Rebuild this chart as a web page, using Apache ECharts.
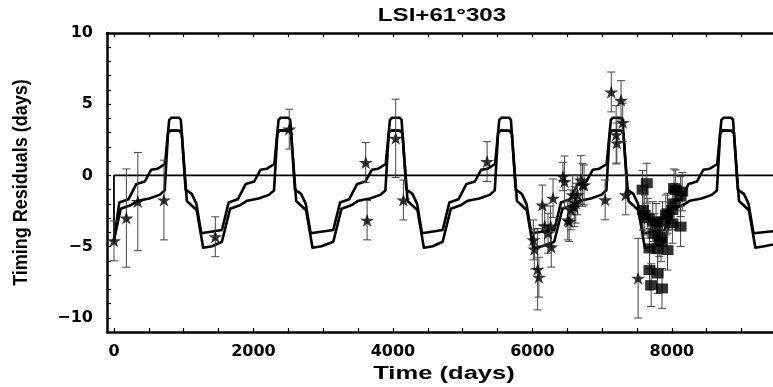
<!DOCTYPE html>
<html><head><meta charset="utf-8">
<script src="https://cdn.jsdelivr.net/npm/echarts@6/dist/echarts.min.js"></script>
<style>html,body{margin:0;padding:0;background:#fff;overflow:hidden}#c{width:773px;height:387px}</style>
</head><body><div id="c"></div>
<script>
// ---- tick labels / tick marks ----
const xTickLabels = [0, 2000, 4000, 6000, 8000];
const xTickMarks = [0,500,1000,1500,2000,2500,3000,3500,4000,4500,5000,5500,6000,6500,7000,7500,8000,8500,9000];
const yTickLabels = [-10, -5, 0, 5, 10];
const yTickMarks = [-10,-9,-8,-7,-6,-5,-4,-3,-2,-1,0,1,2,3,4,5,6,7,8,9,10];

// ---- model curves (time, residual) ----
const modelUpper = [
[0,-4.54],[77,-1.9],[207,-1.68],[322,-0.6],[442,-0.43],[532,0.39],[627,0.47],[732,0.8],[792,3.9],[822,4.05],[932,4.05],[959,3.9],[1027,-1.0],[1115,-1.3],[1182,-2.0],[1252,-4.07],
[1548,-3.84],[1645,-1.9],[1775,-1.68],[1890,-0.6],[2010,-0.43],[2100,0.39],[2195,0.47],[2300,0.8],[2360,3.9],[2390,4.05],[2500,4.05],[2527,3.9],[2595,-1.0],[2683,-1.3],[2750,-2.0],[2820,-4.07],
[3145,-3.84],[3242,-1.9],[3372,-1.68],[3487,-0.6],[3607,-0.43],[3697,0.39],[3792,0.47],[3897,0.8],[3957,3.9],[3987,4.05],[4097,4.05],[4124,3.9],[4192,-1.0],[4280,-1.3],[4347,-2.0],[4417,-4.07],
[4713,-3.84],[4810,-1.9],[4940,-1.68],[5055,-0.6],[5175,-0.43],[5265,0.39],[5360,0.47],[5465,0.8],[5525,3.9],[5555,4.05],[5665,4.05],[5692,3.9],[5760,-1.0],[5848,-1.3],[5915,-2.0],[5985,-4.07],
[6313,-3.84],[6410,-1.9],[6540,-1.68],[6655,-0.6],[6775,-0.43],[6865,0.39],[6960,0.47],[7065,0.8],[7125,3.9],[7155,4.05],[7265,4.05],[7292,3.9],[7360,-1.0],[7448,-1.3],[7515,-2.0],[7585,-4.07],
[7898,-3.84],[7995,-1.9],[8125,-1.68],[8240,-0.6],[8360,-0.43],[8450,0.39],[8545,0.47],[8650,0.8],[8710,3.9],[8740,4.05],[8850,4.05],[8877,3.9],[8945,-1.0],[9033,-1.3],[9100,-2.0],[9170,-4.07],[9500,-3.9]
];
const modelLower = [
[0,-4.54],[97,-2.35],[237,-2.1],[342,-1.78],[507,-1.62],[652,-1.37],[727,-1.07],[775,2.97],[812,3.16],[937,3.14],[972,2.95],[1045,-1.8],[1187,-2.45],[1279,-5.08],[1407,-4.98],
[1548,-4.66],[1665,-2.35],[1805,-2.1],[1910,-1.78],[2075,-1.62],[2220,-1.37],[2295,-1.07],[2343,2.97],[2380,3.16],[2505,3.14],[2540,2.95],[2613,-1.8],[2755,-2.45],[2847,-5.08],[2975,-4.98],
[3145,-4.66],[3262,-2.35],[3402,-2.1],[3507,-1.78],[3672,-1.62],[3817,-1.37],[3892,-1.07],[3940,2.97],[3977,3.16],[4102,3.14],[4137,2.95],[4210,-1.8],[4352,-2.45],[4444,-5.08],[4572,-4.98],
[4713,-4.66],[4830,-2.35],[4970,-2.1],[5075,-1.78],[5240,-1.62],[5385,-1.37],[5460,-1.07],[5508,2.97],[5545,3.16],[5670,3.14],[5705,2.95],[5778,-1.8],[5920,-2.45],[6012,-5.08],[6140,-4.98],
[6313,-4.66],[6430,-2.35],[6570,-2.1],[6675,-1.78],[6840,-1.62],[6985,-1.37],[7060,-1.07],[7108,2.97],[7145,3.16],[7270,3.14],[7305,2.95],[7378,-1.8],[7520,-2.45],[7612,-5.08],[7740,-4.98],
[7898,-4.66],[8015,-2.35],[8155,-2.1],[8260,-1.78],[8425,-1.62],[8570,-1.37],[8645,-1.07],[8693,2.97],[8730,3.16],[8855,3.14],[8890,2.95],[8963,-1.8],[9105,-2.45],[9197,-5.08],[9325,-4.98],[9500,-4.8]
];
const zeroLine = [[0,-4.6],[0,0],[9500,0]];

// ---- observations: [time, residual, error] ----
const starPoints = [
[0,-4.6,1.4],[178,-3.0,3.45],[342,-1.84,3.45],[717,-1.73,2.8],[1453,-4.31,1.4],
[2513,3.25,1.4],[3610,0.9,1.4],[3630,-3.15,1.38],[4040,2.6,2.75],[4150,-1.73,1.4],[5350,0.97,1.4],
[6014,-4.53,1.4],[6028,-5.18,1.4],[6075,-6.59,2.86],[6093,-7.15,1.4],[6142,-2.08,1.4],[6177,-3.55,1.4],
[6224,-4.06,1.4],[6261,-3.55,1.4],[6270,-5.04,1.4],[6296,-1.6,1.35],[6438,-0.08,1.0],[6461,-0.44,1.8],
[6507,-3.13,1.4],[6527,-3.24,1.4],[6551,-2.42,1.4],[6577,-1.37,1.4],[6601,-2.2,1.4],[6622,-1.95,1.4],
[6645,-1.37,1.4],[6695,-0.32,1.7],[6719,-0.67,1.5],[6741,-0.67,1.4],
[7043,-1.72,1.4],[7131,5.86,1.4],[7201,2.85,2.05],[7211,2.27,1.4],[7271,5.27,1.38],[7295,3.72,1.35],
[7338,-1.37,1.4],[7516,-7.22,2.8]
];
const squarePoints = [
[7580,-1.0,1.35],[7585,-2.43,1.4],[7610,-2.78,1.4],[7640,-0.55,1.4],[7656,-3.01,1.4],[7679,-5.13,1.4],
[7679,-6.65,1.4],[7703,-7.71,1.5],[7726,-3.25,1.4],[7750,-4.1,1.4],[7773,-3.37,1.4],[7796,-5.13,1.4],
[7796,-6.89,1.4],[7820,-4.31,1.4],[7844,-4.66,1.4],[7858,-7.94,1.4],[7866,-3.25,1.4],[7914,-2.78,1.4],
[7937,-5.25,1.4],[7937,-2.66,1.4],[8007,-2.43,1.4],[8007,-3.37,1.4],[8031,-1.96,1.4],[8031,-0.9,1.35],
[8055,-1.02,1.4],[8125,-1.49,1.4],[8125,-3.6,1.4],[8148,-1.14,1.35]
];

const STAR = 'path://M50,0 L61.8,35.1 L98.9,35.1 L68.9,56.8 L80.3,91.9 L50,70.2 L19.7,91.9 L31.1,56.8 L1.1,35.1 L38.2,35.1 Z';
const tickFont = {fontFamily:'DejaVu Sans', fontWeight:'bold', fontSize:16, color:'#000'};

function errData(pts){ return pts.map(p => [p[0], p[1]-p[2], p[1]+p[2]]); }
function errRender(params, api){
  const x = api.value(0);
  const a = api.coord([x, api.value(1)]);
  const b = api.coord([x, api.value(2)]);
  const cap = 4;
  const st = {stroke:'#444', lineWidth:1};
  return {type:'group', children:[
    {type:'line', shape:{x1:a[0],y1:a[1],x2:b[0],y2:b[1]}, style:st},
    {type:'line', shape:{x1:a[0]-cap,y1:a[1],x2:a[0]+cap,y2:a[1]}, style:st},
    {type:'line', shape:{x1:b[0]-cap,y1:b[1],x2:b[0]+cap,y2:b[1]}, style:st}
  ]};
}

const chart = echarts.init(document.getElementById('c'));
const axisLine = {show:true, onZero:false, lineStyle:{color:'#000', width:2.5}};
chart.setOption({
  animation:false,
  backgroundColor:'#fff',
  grid:{left:107, right:-13, top:33, bottom:55},
  xAxis:[
    {type:'value', min:-100, max:9450, position:'bottom', axisLine,
     axisTick:{show:true, inside:true, length:4, customValues:xTickMarks, lineStyle:{color:'#000', width:1.2}},
     axisLabel:Object.assign({show:true, margin:12, customValues:xTickLabels, formatter:v => String(v)}, tickFont),
     splitLine:{show:false}},
    {type:'value', min:-100, max:9450, position:'top', axisLine,
     axisTick:{show:true, inside:true, length:4, customValues:xTickMarks, lineStyle:{color:'#000', width:1.2}},
     axisLabel:{show:false}, splitLine:{show:false}}
  ],
  yAxis:[
    {type:'value', min:-11, max:10, axisLine,
     axisTick:{show:true, inside:true, length:4, customValues:yTickMarks, lineStyle:{color:'#000', width:1.2}},
     axisLabel:Object.assign({show:true, margin:14, customValues:yTickLabels,
       formatter:v => v < 0 ? '\u2212' + Math.abs(v) : String(v)}, tickFont),
     splitLine:{show:false}}
  ],
  graphic:[
    {type:'text', x:442, y:16.5, scaleX:1.34, style:{text:'LSI+61\u00b0303', font:'bold 18px "Liberation Sans"', fill:'#000', textAlign:'center', textVerticalAlign:'middle'}},
    {type:'text', x:444, y:374.5, scaleX:1.42, style:{text:'Time (days)', font:'bold 18px "Liberation Sans"', fill:'#000', textAlign:'center', textVerticalAlign:'middle'}},
    {type:'text', x:21, y:182.5, rotation:Math.PI/2, scaleY:1.15, style:{text:'Timing Residuals (days)', font:'bold 18px "Liberation Sans"', fill:'#000', textAlign:'center', textVerticalAlign:'middle'}}
  ],
  series:[
    {type:'line', data:zeroLine, symbol:'none', lineStyle:{color:'#000', width:1.8}, z:2},
    {type:'line', data:modelUpper, symbol:'none', lineStyle:{color:'#000', width:2.6, join:'round'}, z:3},
    {type:'line', data:modelLower, symbol:'none', lineStyle:{color:'#000', width:2.6, join:'round'}, z:3},
    {type:'custom', data:errData(starPoints), renderItem:errRender, encode:{x:0, y:[1,2]}, z:4, clip:true},
    {type:'custom', data:errData(squarePoints), renderItem:errRender, encode:{x:0, y:[1,2]}, z:4, clip:true},
    {type:'scatter', data:starPoints.map(p=>[p[0],p[1]]), symbol:STAR, symbolSize:[14,13], itemStyle:{color:'#000'}, z:5},
    {type:'scatter', data:squarePoints.map(p=>[p[0],p[1]]), symbol:'rect', symbolSize:[12,10], itemStyle:{color:'#000'}, z:5}
  ]
});
</script>
</body></html>
